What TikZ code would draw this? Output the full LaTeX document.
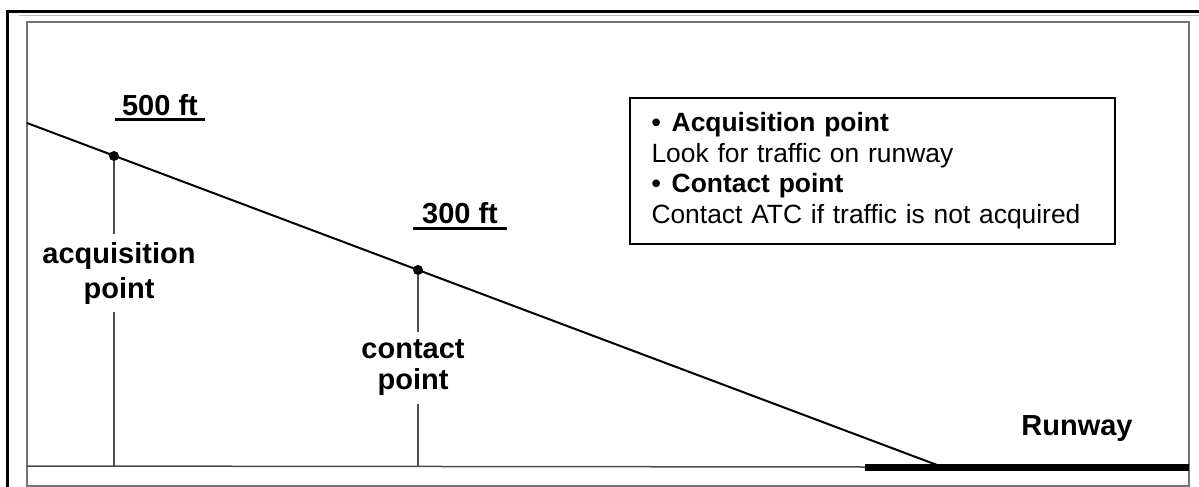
\documentclass[tikz,border=0pt]{standalone}
\usepackage{fontspec}
\setmainfont{Liberation Sans}

\begin{document}
\begin{tikzpicture}[x=1pt, y=-1pt,
    dot/.style={circle, fill=black, inner sep=0pt, minimum width=10pt},
    lbl/.style={font=\bfseries\fontsize{29}{34}\selectfont, align=center, inner xsep=0pt, inner ysep=7.5pt},
    alt/.style={font=\bfseries\fontsize{29}{34}\selectfont, inner sep=0pt},
    rule/.style={draw=black!70, line width=1.5pt}]
      \useasboundingbox (0, 0) rectangle (1199, 487);
      \draw[line width=3pt] (7, 487) -- (7, 12) -- (1199, 12);
      \draw[black!25, line width=1pt] (19, 16) -- (1199, 16);
      \draw[black!55, line width=2pt] (27, 22) rectangle (1189, 486);
      \coordinate (0) at (27, 123);
      \coordinate (3) at (937, 465);
      \coordinate (4) at (114, 466);
      \coordinate (5) at (418, 466);
      \coordinate (6) at (865, 467);
      \coordinate (7) at (1189, 467);
      \node[dot] (1) at (114, 156) {};
      \node[dot] (2) at (418, 270) {};
      \node[lbl] (a) at (119, 273) {acquisition\\[1pt]point};
      \node[lbl, font=\bfseries\fontsize{29}{31}\selectfont] (c) at (413, 368) {contact\\point};
      \node[alt, anchor=base, inner xsep=7pt] (h1) at (160, 115) {500 ft};
      \node[alt, anchor=base, inner xsep=9pt] (h2) at (460, 223) {300 ft};
      \node[alt, anchor=base] (r) at (1077, 435) {Runway};
      \node[draw, line width=2pt, minimum width=485pt, minimum height=146pt, text width=441pt,
        align=left, inner sep=0pt, font=\fontsize{26.4}{30.5}\selectfont] (k) at (872, 170.5)
        {\textbf{\textbullet\hspace{11pt}Acquisition point}\\Look for traffic on runway\\
         \textbf{\textbullet\hspace{11pt}Contact point}\\Contact ATC if traffic is not acquired};
      \draw (0) edge[line width=2pt] (3);
      \draw (1) edge[rule] (1 |- a.north);
      \draw (4 |- a.south) edge[rule] (4);
      \draw (2) edge[rule] (2 |- c.north);
      \draw (5 |- c.south) edge[rule] (5);
      \draw[rule] (27, 466) -- (6);
      \draw (6) edge[line width=7pt] (7);
      \draw[line width=3pt] ([yshift=-4pt]h1.base west) -- ([yshift=-4pt]h1.base east);
      \draw[line width=3pt] ([yshift=-5pt]h2.base west) -- ([yshift=-5pt]h2.base east);
    \end{tikzpicture}
\end{document}
